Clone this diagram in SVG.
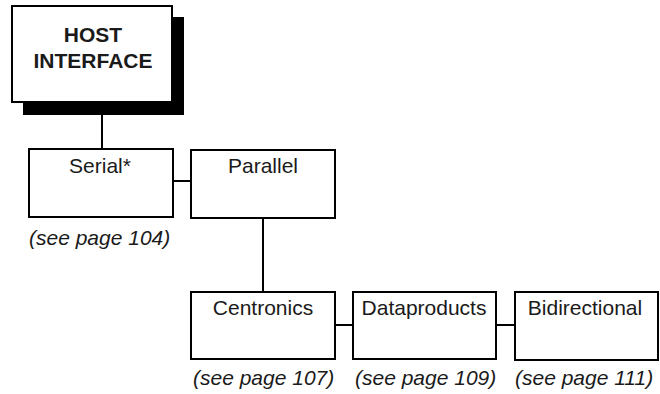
<svg xmlns="http://www.w3.org/2000/svg" width="660" height="394" viewBox="0 0 660 394">
<style>
.box{fill:#fff;stroke:#000;stroke-width:2}
.lbl{font-family:"Liberation Sans",Arial,sans-serif;font-size:21px;fill:#1a1a1a;text-anchor:middle}
.ttl{font-family:"Liberation Sans",Arial,sans-serif;font-size:21px;font-weight:bold;fill:#1a1a1a;text-anchor:middle}
.ref{font-family:"Liberation Sans",Arial,sans-serif;font-size:21px;font-style:italic;fill:#1a1a1a}
.ln{stroke:#000;stroke-width:2;fill:none}
</style>
<rect width="660" height="394" fill="#fff"/>
<g id="connectors">
<line class="ln" x1="102" y1="114" x2="102" y2="149"/>
<line class="ln" x1="173" y1="181" x2="191" y2="181"/>
<line class="ln" x1="263" y1="218" x2="263" y2="292"/>
<line class="ln" x1="335" y1="325" x2="353" y2="325"/>
<line class="ln" x1="496" y1="325" x2="515" y2="325"/>
</g>
<g id="host">
<rect x="23" y="17" width="161" height="98" fill="#000"/>
<rect class="box" x="12" y="6" width="160" height="96"/>
<text class="ttl" x="93" y="42">HOST</text>
<text class="ttl" x="93" y="68">INTERFACE</text>
</g>
<g id="serial">
<rect class="box" x="29" y="149" width="144" height="68"/>
<text class="lbl" x="100" y="173">Serial*</text>
<text class="ref" x="29" y="245">(see page 104)</text>
</g>
<g id="parallel">
<rect class="box" x="191" y="150" width="144" height="68"/>
<text class="lbl" x="263" y="173">Parallel</text>
</g>
<g id="centronics">
<rect class="box" x="191" y="292" width="144" height="67"/>
<text class="lbl" x="263" y="315">Centronics</text>
<text class="ref" x="193" y="385">(see page 107)</text>
</g>
<g id="dataproducts">
<rect class="box" x="353" y="292" width="143" height="67"/>
<text class="lbl" x="424" y="315">Dataproducts</text>
<text class="ref" x="355" y="385">(see page 109)</text>
</g>
<g id="bidirectional">
<rect class="box" x="515" y="292" width="143" height="68"/>
<text class="lbl" x="585" y="315">Bidirectional</text>
<text class="ref" x="515" y="385">(see page 111)</text>
</g>
</svg>
